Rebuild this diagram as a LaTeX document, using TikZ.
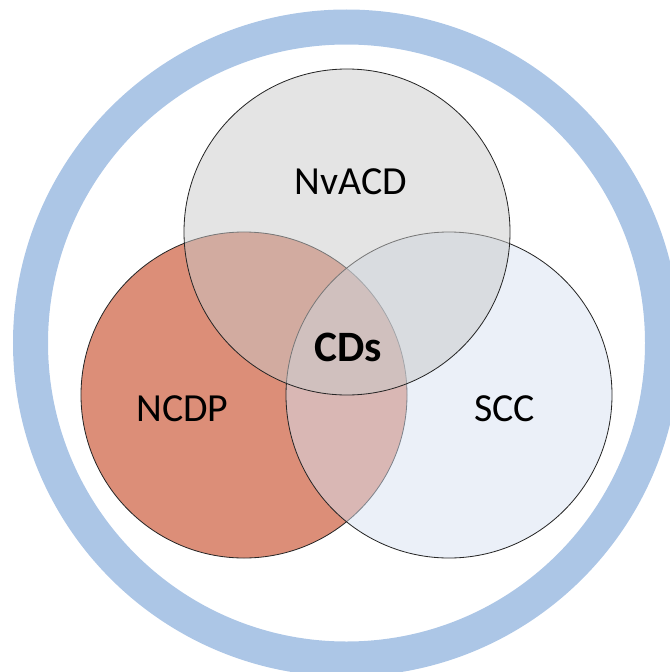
\documentclass[tikz,border=0pt]{standalone}
\usepackage{fontspec}
\setmainfont{Carlito}
\usepackage{tikz}
\usetikzlibrary{positioning}

\definecolor{ringblue}{RGB}{172,198,230}
\definecolor{ncdpred}{RGB}{220,142,120}
\definecolor{sccblue}{RGB}{215,225,241}
\definecolor{nvgray}{RGB}{201,201,201}

\begin{document}
\begin{tikzpicture}
[x=0.03cm,y=-0.03cm,
set/.style={circle,draw=black!85,line width=0.7pt,inner sep=0pt,minimum size=9.78cm},
lbl/.style={anchor=base,inner sep=0pt,font=\fontsize{34}{40}\selectfont}]
\useasboundingbox (0,0) rectangle (669,672);
\draw[ringblue,line width=1.05cm] (346.5,343) circle (316);

\node[set,fill=ncdpred] (ncdp) at (244,395) {};
\node[set,fill=sccblue,fill opacity=0.5] (scc) at (449,395) {};
\node[set,fill=nvgray,fill opacity=0.5] (nvacd) at (347,232) {};

\node[lbl] (tnv) at (351,194) {NvACD};
\node[lbl] (tncdp) at (182.5,421) {NCDP};
\node[lbl] (tscc) at (504.5,421) {SCC};
\node[lbl,font=\fontsize{37}{44}\selectfont\bfseries] (tcd) at (348.5,361) {CDs};
\end{tikzpicture}
\end{document}
